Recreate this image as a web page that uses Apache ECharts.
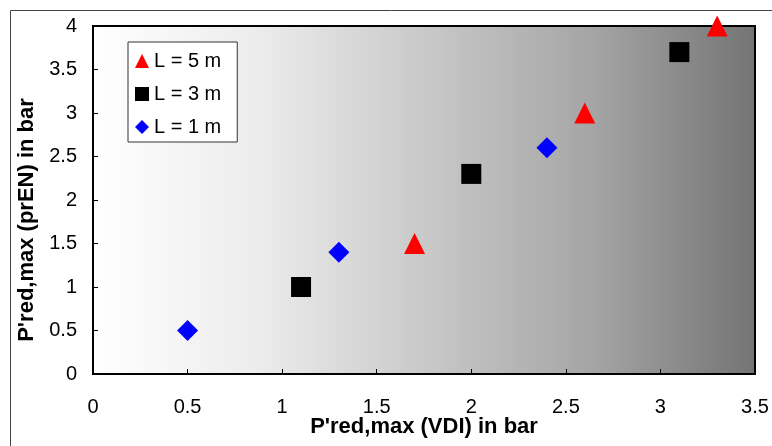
<!DOCTYPE html>
<html>
<head>
<meta charset="utf-8">
<script src="https://cdn.jsdelivr.net/npm/echarts@6/dist/echarts.min.js"></script>
<style>html,body{margin:0;padding:0;background:#fff}#c{width:772px;height:446px}</style>
</head>
<body>
<div id="c"></div>
<script>
var seriesNames = ['L = 5 m', 'L = 3 m', 'L = 1 m'];
var l5 = [[1.7, 1.5], [2.6, 3.0], [3.3, 4.0]];
var l3 = [[1.1, 1.0], [2.0, 2.3], [3.1, 3.7]];
var l1 = [[0.5, 0.5], [1.3, 1.4], [2.4, 2.6]];
var xTitle = "P'red,max (VDI) in bar";
var yTitle = "P'red,max (prEN) in bar";

var chart = echarts.init(document.getElementById('c'));
var font = 'Arial, "Liberation Sans", sans-serif';
var grad = new echarts.graphic.LinearGradient(0, 0, 1, 0, [
  {offset: 0, color: '#ffffff'},
  {offset: 0.25, color: '#ececec'},
  {offset: 0.5, color: '#c9c9c9'},
  {offset: 0.76, color: '#a4a4a4'},
  {offset: 1, color: '#747474'}
]);
chart.setOption({
  animation: false,
  graphic: [{
    type: 'rect', left: 8, top: 8, shape: {width: 900, height: 600},
    style: {fill: 'none', stroke: '#444', lineWidth: 1}, z: -1
  }],
  grid: {
    left: 93, right: 17, top: 26, bottom: 72,
    containLabel: false, outerBoundsMode: 'none',
    show: true, backgroundColor: grad, borderColor: '#000', borderWidth: 2
  },
  legend: {
    orient: 'vertical', left: 128, top: 42,
    padding: [9, 16, 5, 7], itemGap: 13,
    itemWidth: 14, itemHeight: 14,
    backgroundColor: '#fff', borderColor: '#333', borderWidth: 1,
    textStyle: {fontFamily: font, fontSize: 20, color: '#000'},
    data: seriesNames
  },
  xAxis: {
    type: 'value', min: 0, max: 3.5, interval: 0.5,
    name: xTitle, nameLocation: 'middle', nameGap: 42, nameMoveOverlap: false,
    nameTextStyle: {fontFamily: font, fontSize: 22, fontWeight: 'bold', color: '#000'},
    axisLine: {show: true, lineStyle: {color: '#000', width: 2}},
    axisTick: {show: true, inside: true, length: 5, lineStyle: {color: '#000'}},
    axisLabel: {margin: 23, fontFamily: font, fontSize: 20, color: '#000'},
    splitLine: {show: false}
  },
  yAxis: {
    type: 'value', min: 0, max: 4, interval: 0.5,
    name: yTitle, nameLocation: 'middle', nameGap: 55, nameMoveOverlap: false,
    nameTextStyle: {fontFamily: font, fontSize: 22, fontWeight: 'bold', color: '#000', padding: [0, 40, 0, 0]},
    axisLine: {show: true, lineStyle: {color: '#000', width: 2}},
    axisTick: {show: true, inside: true, length: 5, lineStyle: {color: '#000'}},
    axisLabel: {margin: 16, fontFamily: font, fontSize: 20, color: '#000'},
    splitLine: {show: false}
  },
  series: [
    {name: seriesNames[0], type: 'scatter', data: l5, symbol: 'triangle', symbolSize: 21, itemStyle: {color: '#ff0000', opacity: 1}},
    {name: seriesNames[1], type: 'scatter', data: l3, symbol: 'rect', symbolSize: 20, itemStyle: {color: '#000000', opacity: 1}},
    {name: seriesNames[2], type: 'scatter', data: l1, symbol: 'diamond', symbolSize: 21, itemStyle: {color: '#0000ff', opacity: 1}}
  ]
});
</script>
</body>
</html>
